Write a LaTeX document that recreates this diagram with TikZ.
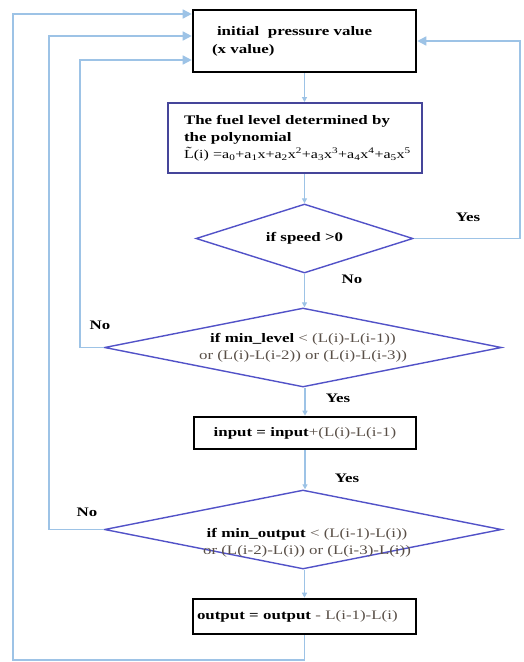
\documentclass[tikz,border=0pt]{standalone}
\usepackage{fontspec}
\setmainfont{Liberation Serif}[FakeStretch=1.3]
\usetikzlibrary{shapes.geometric,arrows.meta}
\definecolor{flow}{HTML}{9DC3E6}
\definecolor{dia}{HTML}{5252C8}
\definecolor{fuelc}{HTML}{45459A}
\definecolor{txtg}{HTML}{5A5048}
\begin{document}
\begin{tikzpicture}[x=1pt,y=-1pt, font=\fontsize{13}{17}\selectfont,
  blackbox/.style={draw=black, line width=2.6pt, rectangle, inner sep=0pt},
  decision/.style={diamond, draw=dia, line width=1.4pt, inner sep=0pt, align=center},
  flowline/.style={draw=flow, line width=1.6pt},
  bigtip/.style={-{Triangle[length=9pt,width=9pt]}},
  smalltip/.style={-{Triangle[length=5pt,width=5pt]}},
  lbl/.style={font=\fontsize{13}{15}\selectfont\bfseries, inner sep=0pt}]
\useasboundingbox (0,0) rectangle (523,662);
\fill[white] (0,0) rectangle (523,662);

% nodes
\node[blackbox, minimum width=223pt, minimum height=62pt, text width=185pt, align=left,
      font=\fontsize{13}{18}\selectfont\bfseries] (init) at (304.5,41)
      {\hspace*{5pt}initial\ \ pressure value\\(x value)\\[-4pt]};
\node[draw=fuelc, line width=2pt, rectangle, inner sep=0pt, minimum width=254pt,
      minimum height=70pt, text width=222pt, align=left] (fuel) at (295,138)
      {\textbf{The fuel level determined by}\\\textbf{the polynomial}\\
       \mbox{\fontsize{12.3}{17}\selectfont\~{L}(i) =a\textsubscript{0}+a\textsubscript{1}x+a\textsubscript{2}x\textsuperscript{2}+a\textsubscript{3}x\textsuperscript{3}+a\textsubscript{4}x\textsuperscript{4}+a\textsubscript{5}x\textsuperscript{5}}};
\node[decision, shape aspect=3.1, minimum width=217pt, minimum height=69pt] (d1) at (304.5,238.5)
      {\bfseries if speed >0};
\node[decision, shape aspect=5, minimum width=397pt, minimum height=79pt] (d2) at (303,347.5)
      {\textbf{if min\_level} {\color{txtg}< (L(i)-L(i-1))}\\{\color{txtg}or (L(i)-L(i-2)) or (L(i)-L(i-3))}};
\node[blackbox, minimum width=222pt, minimum height=32pt] (inp) at (305,433)
      {\textbf{input = input}{\color{txtg}+(L(i)-L(i-1)}};
\node[decision, shape aspect=5, minimum width=397pt, minimum height=79pt] (d3) at (303,529.5) {};
\node[inner sep=0pt, align=center] (d3t) at (307,543)
      {\textbf{if min\_output} {\color{txtg}< (L(i-1)-L(i))}\\{\color{txtg}or (L(i-2)-L(i)) or (L(i-3)-L(i))}};
\node[blackbox, minimum width=223pt, minimum height=35pt, text width=215pt, align=left] (outp) at (304.5,616.5)
      {\textbf{output = output} {\color{txtg}- L(i-1)-L(i)}};

% helper coordinates
\coordinate (rc) at (520,0);
\coordinate (l1) at (80,0);
\coordinate (l2) at (49,0);
\coordinate (l3) at (13,0);
\coordinate (bot) at (0,660);

% connectors
\draw[flowline, smalltip] (init.south) -- (init.south |- fuel.north);
\draw[flowline, smalltip] (fuel.south -| d1.north) -- (d1.north);
\draw[flowline, smalltip] (d1.south) -- (d1.south |- d2.north);
\draw[flowline, smalltip] (d2.south -| inp.north) -- (inp.north);
\draw[flowline, smalltip] (inp.south) -- (inp.south |- d3.north);
\draw[flowline, smalltip] (d3.south -| outp.north) -- (outp.north);
\draw[flowline, bigtip] (d1.east) -- (d1.east -| rc) |- (init.east);
\draw[flowline, bigtip] (d2.west) -- (d2.west -| l1) |- ([yshift=-19pt]init.west);
\draw[flowline, bigtip] (d3.west) -- (d3.west -| l2) |- ([yshift=5pt]init.west);
\draw[flowline, bigtip] (outp.south) -- (outp.south |- bot) -- (bot -| l3) |- ([yshift=27pt]init.west);

% labels
\node[lbl] (yes1) at (468,217) {Yes};
\node[lbl] (no1) at (352,279) {No};
\node[lbl] (no2) at (100,325) {No};
\node[lbl] (yes2) at (338,398) {Yes};
\node[lbl] (yes3) at (347,478) {Yes};
\node[lbl] (no3) at (87,512) {No};
\end{tikzpicture}
\end{document}
